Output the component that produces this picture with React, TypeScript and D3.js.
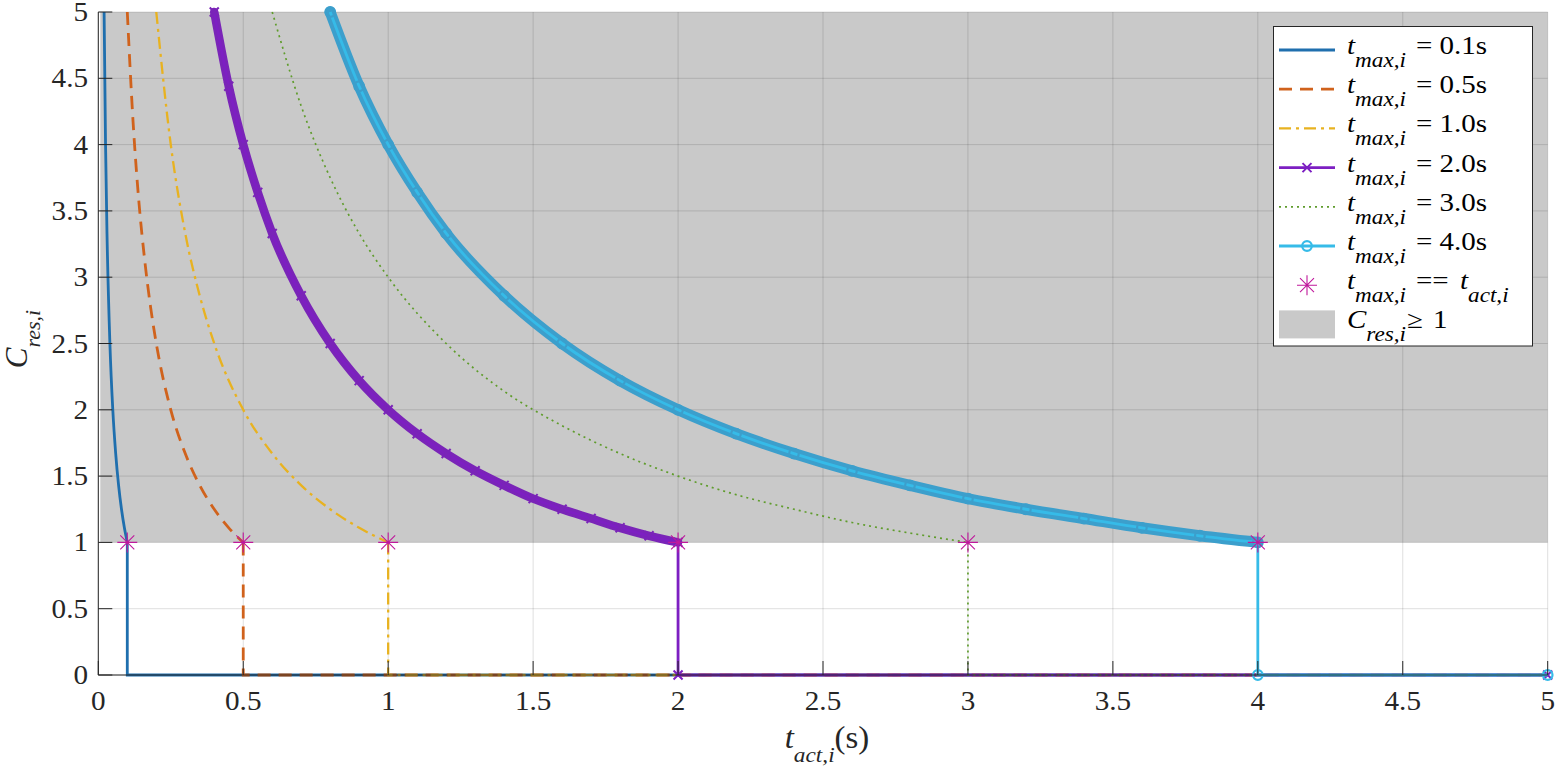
import React, { useEffect, useRef } from 'react';
import * as d3 from 'd3';

// readings: t_act (s) against C_res for every t_max
const tMax = [0.1, 0.5, 1.0, 2.0, 3.0, 4.0];

const curveT01 = [0.02, 0.025, 0.03, 0.04, 0.05, 0.06, 0.07, 0.08, 0.09, 0.1];
const curveC01 = [5, 4, 3.33, 2.5, 2, 1.67, 1.43, 1.25, 1.11, 1];

const curveT05 = [0.1, 0.12, 0.14, 0.16, 0.18, 0.2, 0.25, 0.3, 0.35, 0.4, 0.45, 0.5];
const curveC05 = [5, 4.17, 3.57, 3.13, 2.78, 2.5, 2, 1.67, 1.43, 1.25, 1.11, 1];

const curveT10 = [0.2, 0.25, 0.3, 0.35, 0.4, 0.5, 0.6, 0.7, 0.8, 0.9, 1.0];
const curveC10 = [5, 4, 3.33, 2.86, 2.5, 2, 1.67, 1.43, 1.25, 1.11, 1];

const curveT20 = [0.4, 0.45, 0.5, 0.55, 0.6, 0.7, 0.8, 0.9, 1.0, 1.1, 1.2, 1.3, 1.4, 1.5, 1.6, 1.7, 1.8, 1.9, 2.0];
const curveC20 = [5, 4.44, 4, 3.64, 3.33, 2.86, 2.5, 2.22, 2, 1.82, 1.67, 1.54, 1.43, 1.33, 1.25, 1.18, 1.11, 1.05, 1];

const curveT30 = [0.6, 0.7, 0.8, 0.9, 1.0, 1.2, 1.4, 1.6, 1.8, 2.0, 2.2, 2.4, 2.6, 2.8, 3.0];
const curveC30 = [5, 4.29, 3.75, 3.33, 3, 2.5, 2.14, 1.88, 1.67, 1.5, 1.36, 1.25, 1.15, 1.07, 1];

const curveT40 = [0.8, 0.9, 1.0, 1.1, 1.2, 1.4, 1.6, 1.8, 2.0, 2.2, 2.4, 2.6, 2.8, 3.0, 3.2, 3.4, 3.6, 3.8, 4.0];
const curveC40 = [5, 4.44, 4, 3.64, 3.33, 2.86, 2.5, 2.22, 2, 1.82, 1.67, 1.54, 1.43, 1.33, 1.25, 1.18, 1.11, 1.05, 1];

// after t_max every series drops to 0 and runs along the axis to 5 s
const tail01 = [0.1, 0.1, 5];
const tail05 = [0.5, 0.5, 5];
const tail10 = [1.0, 1.0, 5];
const tail20 = [2.0, 2.0, 5];
const tail30 = [3.0, 3.0, 5];
const tail40 = [4.0, 4.0, 5];
const tailC = [1, 0, 0];

// t_max == t_act points
const equalT = [0.1, 0.5, 1.0, 2.0, 3.0, 4.0];
const equalC = [1, 1, 1, 1, 1, 1];

const xTicks = [0, 0.5, 1, 1.5, 2, 2.5, 3, 3.5, 4, 4.5, 5];
const yTicks = [0, 0.5, 1, 1.5, 2, 2.5, 3, 3.5, 4, 4.5, 5];
const legendLabels = ['= 0.1s', '= 0.5s', '= 1.0s', '= 2.0s', '= 3.0s', '= 4.0s'];

type Pt = [number, number];

const zip = (a: number[], b: number[]): Pt[] => a.map((v, i) => [v, b[i]]);

const seriesStyle = [
  { color: '#1f6fae', dash: '', width: 2.8, marker: '', band: '' },
  { color: '#d0621c', dash: '13,8', width: 2.8, marker: '', band: '' },
  { color: '#e8b220', dash: '12,5,3,5', width: 2.3, marker: '', band: '' },
  { color: '#7d1fc2', dash: '', width: 2.8, marker: 'x', band: '#7a24b8' },
  { color: '#5f9c2c', dash: '2,4', width: 1.7, marker: '', band: '' },
  { color: '#36bbe8', dash: '', width: 2.8, marker: 'o', band: '#3c9fcc' },
];

const FONT = 'Liberation Serif';
// the reference glyphs are a little wider than the font's own proportions
const LEGEND_SX = 1.16;
const TICK_SX = 1.08;

export default function App() {
  const ref = useRef<SVGSVGElement>(null);

  useEffect(() => {
    const width = 1559;
    const height = 769;
    const svg = d3.select(ref.current);
    svg.selectAll('*').remove();

    const xScale = d3.scaleLinear().domain([0, 5]).range([98.3, 1547.7]);
    const yScale = d3.scaleLinear().domain([0, 5]).range([675, 12]);

    svg.append('rect').attr('width', width).attr('height', height).attr('fill', '#fff');

    // C_res >= 1 region
    svg
      .append('rect')
      .attr('x', xScale(0) + 2)
      .attr('y', yScale(5))
      .attr('width', xScale(5) - xScale(0) - 2)
      .attr('height', yScale(1) - yScale(5))
      .attr('fill', '#c9c9c9');

    // grid
    const grid = svg.append('g').attr('stroke', '#000').attr('stroke-opacity', 0.13).attr('stroke-width', 1);
    xTicks.forEach((t) => {
      grid.append('line').attr('x1', xScale(t)).attr('x2', xScale(t)).attr('y1', yScale(0)).attr('y2', yScale(5));
    });
    yTicks.forEach((t) => {
      grid.append('line').attr('x1', xScale(0)).attr('x2', xScale(5)).attr('y1', yScale(t)).attr('y2', yScale(t));
    });

    const curves: Pt[][] = [
      zip(curveT01, curveC01),
      zip(curveT05, curveC05),
      zip(curveT10, curveC10),
      zip(curveT20, curveC20),
      zip(curveT30, curveC30),
      zip(curveT40, curveC40),
    ];
    const tails: Pt[][] = [tail01, tail05, tail10, tail20, tail30, tail40].map((tt) => zip(tt, tailC));

    const smooth = d3
      .line<Pt>()
      .x((d) => xScale(d[0]))
      .y((d) => yScale(d[1]))
      .curve(d3.curveMonotoneX);
    const straight = d3
      .line<Pt>()
      .x((d) => xScale(d[0]))
      .y((d) => yScale(d[1]));

    const xMark = 'M-4.5,-4.5L4.5,4.5M-4.5,4.5L4.5,-4.5';

    const drawMarkers = (g: d3.Selection<SVGGElement, unknown, null, undefined>, pts: Pt[], kind: string, color: string) => {
      if (kind === 'x') {
        g.selectAll(null)
          .data(pts)
          .enter()
          .append('path')
          .attr('d', xMark)
          .attr('transform', (d) => `translate(${xScale(d[0])},${yScale(d[1])})`)
          .attr('fill', 'none')
          .attr('stroke', color)
          .attr('stroke-width', 2);
      } else if (kind === 'o') {
        g.selectAll(null)
          .data(pts)
          .enter()
          .append('circle')
          .attr('cx', (d) => xScale(d[0]))
          .attr('cy', (d) => yScale(d[1]))
          .attr('r', 4.8)
          .attr('fill', 'none')
          .attr('stroke', color)
          .attr('stroke-width', 2.2);
      }
    };

    const plot = svg.append('g');
    curves.forEach((pts, i) => {
      const st = seriesStyle[i];
      const g = plot.append('g');
      if (st.band) {
        // overlapping markers of the densely sampled curve read as a wide band
        g.append('path')
          .attr('d', smooth(pts) as string)
          .attr('fill', 'none')
          .attr('stroke', st.band)
          .attr('stroke-width', st.marker === 'o' ? 11 : 8.5)
          .attr('stroke-linecap', 'round');
      }
      g.append('path')
        .attr('d', (smooth(pts) as string) + (straight(tails[i]) as string))
        .attr('fill', 'none')
        .attr('stroke', st.color)
        .attr('stroke-width', st.width)
        .attr('stroke-dasharray', st.dash || null);
      if (st.marker) {
        drawMarkers(g, pts, st.marker, st.band);
        drawMarkers(g, tails[i].slice(1), st.marker, st.color);
      }
    });

    const star = 'M0,-10V10M-10,0H10M-7,-7L7,7M-7,7L7,-7';
    plot
      .append('g')
      .selectAll('path')
      .data(zip(equalT, equalC))
      .enter()
      .append('path')
      .attr('d', star)
      .attr('transform', (d) => `translate(${xScale(d[0])},${yScale(d[1])})`)
      .attr('stroke', '#c0189c')
      .attr('stroke-width', 1.1)
      .attr('fill', 'none');

    // axes (box off, ticks inward)
    const axisColor = '#262626';
    const axes = svg.append('g').attr('stroke', axisColor).attr('stroke-width', 1);
    axes.append('line').attr('x1', xScale(0)).attr('x2', xScale(0)).attr('y1', yScale(0)).attr('y2', yScale(5));
    axes.append('line').attr('x1', xScale(0)).attr('x2', xScale(5)).attr('y1', yScale(0)).attr('y2', yScale(0));
    xTicks.forEach((t) => {
      axes.append('line').attr('x1', xScale(t)).attr('x2', xScale(t)).attr('y1', yScale(0)).attr('y2', yScale(0) - 14);
    });
    yTicks.forEach((t) => {
      axes.append('line').attr('x1', xScale(0)).attr('x2', xScale(0) + 14).attr('y1', yScale(t)).attr('y2', yScale(t));
    });

    const labels = svg.append('g').attr('fill', '#262626');
    xTicks.forEach((t) => {
      labels
        .append('text')
        .attr('font-family', FONT)
        .attr('transform', `translate(${xScale(t)},${yScale(0) + 35}) scale(${TICK_SX},1)`)
        .attr('text-anchor', 'middle')
        .attr('font-size', 27)
        .text(String(t));
    });
    yTicks.forEach((t) => {
      labels
        .append('text')
        .attr('font-family', FONT)
        .attr('transform', `translate(88,${yScale(t) + 9}) scale(${TICK_SX},1)`)
        .attr('text-anchor', 'end')
        .attr('font-size', 27)
        .text(String(t));
    });

    // x label
    const xl = labels
      .append('text')
      .attr('font-family', FONT)
      .attr('transform', `translate(827,748) scale(1.06,1)`)
      .attr('text-anchor', 'middle')
      .attr('font-size', 31);
    xl.append('tspan').attr('font-style', 'italic').text('t');
    xl.append('tspan').attr('font-style', 'italic').attr('font-size', 22).attr('dy', 14).text('act,i');
    xl.append('tspan').attr('dy', -14).text('(s)');

    // y label
    const yl = labels
      .append('text')
      .attr('font-family', FONT)
      .attr('transform', 'translate(27,339) rotate(-90)')
      .attr('text-anchor', 'middle')
      .attr('font-size', 31);
    yl.append('tspan').attr('font-style', 'italic').text('C');
    yl.append('tspan').attr('font-style', 'italic').attr('font-size', 22).attr('dy', 13).text('res,i');

    // legend
    const lg = svg.append('g').attr('fill', '#000');
    lg.append('rect')
      .attr('x', 1273.5)
      .attr('y', 26.5)
      .attr('width', 259)
      .attr('height', 319.5)
      .attr('fill', '#fff')
      .attr('stroke', '#262626')
      .attr('stroke-width', 1);

    const textX = 1347;
    const local = (px: number) => (px - textX) / LEGEND_SX;
    const rowY = (i: number) => 50 + 39.2 * i;
    const legendText = (i: number) =>
      lg
        .append('text')
        .attr('font-family', FONT)
        .attr('transform', `translate(${textX},${rowY(i) + 4}) scale(${LEGEND_SX},1)`)
        .attr('font-size', 25);
    const tMaxLabel = (i: number) => {
      const txt = legendText(i);
      txt.append('tspan').attr('font-style', 'italic').text('t');
      txt.append('tspan').attr('font-style', 'italic').attr('font-size', 20).attr('dy', 13).text('max,i');
      return txt;
    };

    tMax.forEach((_, i) => {
      const st = seriesStyle[i];
      const cy = rowY(i);
      lg.append('line')
        .attr('x1', 1279)
        .attr('x2', 1335)
        .attr('y1', cy)
        .attr('y2', cy)
        .attr('stroke', st.color)
        .attr('stroke-width', st.width)
        .attr('stroke-dasharray', st.dash || null);
      if (st.marker === 'x') {
        lg.append('path').attr('d', xMark).attr('transform', `translate(1307,${cy})`).attr('stroke', st.color).attr('stroke-width', 2);
      } else if (st.marker === 'o') {
        lg.append('circle').attr('cx', 1307).attr('cy', cy).attr('r', 4.8).attr('fill', 'none').attr('stroke', st.color).attr('stroke-width', 2.2);
      }
      const txt = tMaxLabel(i);
      txt.append('tspan').attr('x', local(1416)).attr('dy', -13).text(legendLabels[i]);
    });

    // t_max == t_act
    lg.append('path').attr('d', star).attr('transform', `translate(1307,${rowY(6)})`).attr('stroke', '#c0189c').attr('stroke-width', 1.1);
    const eq = tMaxLabel(6);
    eq.append('tspan').attr('x', local(1416)).attr('dy', -13).text('==');
    eq.append('tspan').attr('x', local(1460)).attr('font-style', 'italic').text('t');
    eq.append('tspan').attr('font-style', 'italic').attr('font-size', 20).attr('dy', 13).text('act,i');

    // shaded region entry
    lg.append('rect').attr('x', 1279).attr('y', rowY(7) - 14).attr('width', 56).attr('height', 28).attr('fill', '#c9c9c9');
    const cr = legendText(7);
    cr.append('tspan').attr('font-style', 'italic').text('C');
    cr.append('tspan').attr('font-style', 'italic').attr('font-size', 20).attr('dy', 13).text('res,i');
    cr.append('tspan').attr('x', local(1407)).attr('dy', -13).text('≥');
    cr.append('tspan').attr('x', local(1433)).text('1');
  }, []);

  return (
    <svg
      ref={ref}
      width={1559}
      height={769}
      style={{ position: 'absolute', left: 0, top: 0, display: 'block', fontFamily: '"Liberation Serif"' }}
    />
  );
}
